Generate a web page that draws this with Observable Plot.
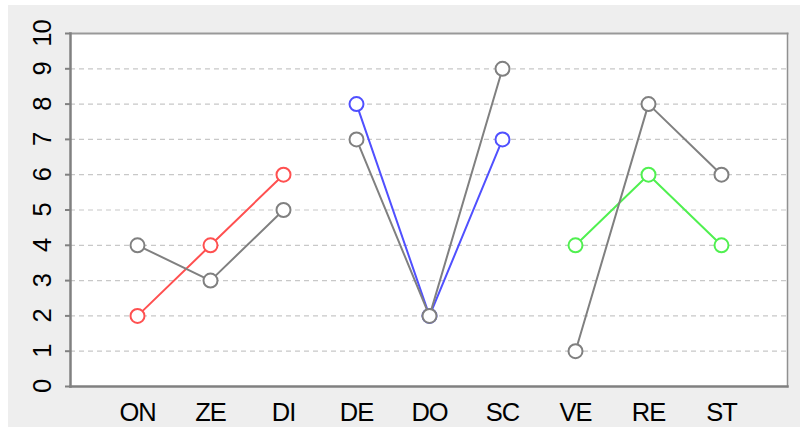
<!DOCTYPE html>
<html>
<head>
<meta charset="utf-8">
<script src="https://cdn.jsdelivr.net/npm/d3@7"></script>
<script src="https://cdn.jsdelivr.net/npm/@observablehq/plot@0.6"></script>
<style>
  html, body { margin: 0; padding: 0; background: #ffffff; }
  #chart { position: absolute; left: 8px; top: 5px; }
  svg { background: #eeeeee; display: block; }
</style>
</head>
<body>
<div id="chart"></div>
<script>
const categories = ["ON", "ZE", "DI", "DE", "DO", "SC", "VE", "RE", "ST"];
const yTicks = [0, 1, 2, 3, 4, 5, 6, 7, 8, 9, 10];

// gray series, in three separate groups
const grayCats   = ["ON", "ZE", "DI", "DE", "DO", "SC", "VE", "RE", "ST"];
const grayValues = [4, 3, 5, 7, 2, 9, 1, 8, 6];
const grayGroups = [1, 1, 1, 2, 2, 2, 3, 3, 3];

const redCats = ["ON", "ZE", "DI"];
const redValues = [2, 4, 6];
const blueCats = ["DE", "DO", "SC"];
const blueValues = [8, 2, 7];
const greenCats = ["VE", "RE", "ST"];
const greenValues = [4, 6, 4];

const gray = grayCats.map((c, i) => ({cat: c, value: grayValues[i], g: grayGroups[i]}));
const red = redCats.map((c, i) => ({cat: c, value: redValues[i]}));
const blue = blueCats.map((c, i) => ({cat: c, value: blueValues[i]}));
const green = greenCats.map((c, i) => ({cat: c, value: greenValues[i]}));

const cGray = "#808080", cRed = "#ff5050", cBlue = "#5050ff", cGreen = "#50f050";

function series(data, color, z) {
  return [
    Plot.line(data, {x: "cat", y: "value", z: z, stroke: color, strokeWidth: 2}),
    Plot.dot(data, {x: "cat", y: "value", r: 7, fill: "white", stroke: color, strokeWidth: 2})
  ];
}

const chart = Plot.plot({
  width: 792,
  height: 422,
  marginLeft: 62,
  marginRight: 13,
  marginTop: 28,
  marginBottom: 41,
  style: {background: "#eeeeee", fontFamily: "Liberation Sans, Arial, sans-serif"},
  x: {type: "point", domain: categories, padding: 0.878, axis: null},
  y: {domain: [0, 10], axis: null, label: null},
  marks: [
    Plot.frame({fill: "white", stroke: null}),
    Plot.ruleY(yTicks.slice(1, 10), {stroke: "#c8c8c8", strokeWidth: 1.2, strokeDasharray: "5,4"}),
    Plot.frame({anchor: "top", stroke: "#999999", strokeWidth: 2}),
    Plot.frame({anchor: "right", stroke: "#909090", strokeWidth: 1.5}),
    Plot.axisY({ticks: yTicks, tickSize: 5, tickFormat: () => "", label: null, stroke: cGray, strokeWidth: 2, strokeOpacity: 1}),
    Plot.frame({anchor: "left", stroke: cGray, strokeWidth: 2.5}),
    Plot.frame({anchor: "bottom", stroke: cGray, strokeWidth: 2.5}),
    Plot.text(yTicks, {y: d => d, text: d => String(d), frameAnchor: "left", dx: -28, rotate: -90,
      fontSize: 25.5, fill: "#000", textAnchor: "middle", lineAnchor: "middle"}),
    Plot.text(categories, {x: d => d, text: d => d, frameAnchor: "bottom", dy: 26.5,
      fontSize: 25.5, fill: "#000", textAnchor: "middle", lineAnchor: "middle"}),
    ...series(red, cRed),
    ...series(blue, cBlue),
    ...series(green, cGreen),
    ...series(gray, cGray, "g")
  ]
});

d3.select(chart).selectAll("text").style("letter-spacing", "-1px");
document.getElementById("chart").appendChild(chart);
</script>
</body>
</html>
